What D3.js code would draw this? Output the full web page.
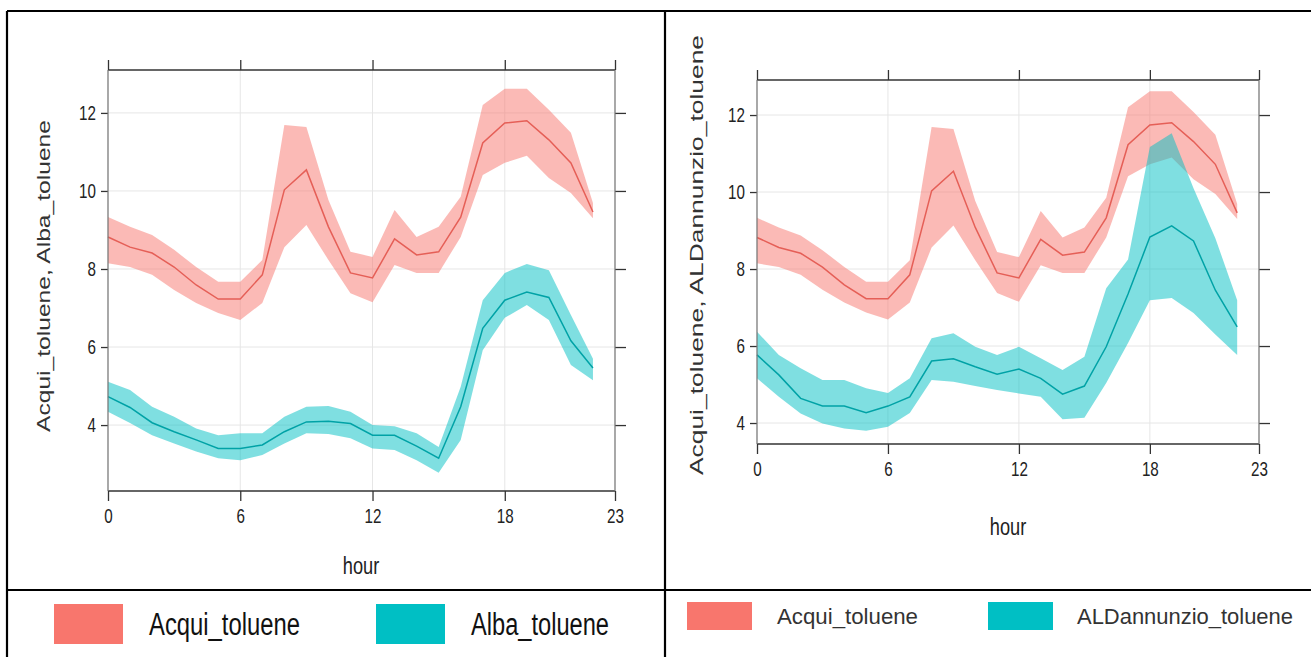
<!DOCTYPE html>
<html>
<head>
<meta charset="utf-8">
<script src="https://cdn.jsdelivr.net/npm/d3@7"></script>
<style>
  body { margin: 0; background: #fff; }
  svg { display: block; font-family: "Liberation Sans", Arial, sans-serif; }
  .tick text { font-size: 20px; fill: #222; }
</style>
</head>
<body>
<script>
// hour of day, 0..22 (axis runs to 23)
var hours = [0, 1, 2, 3, 4, 5, 6, 7, 8, 9, 10, 11, 12, 13, 14, 15, 16, 17, 18, 19, 20, 21, 22];
var xTicks = [0, 6, 12, 18, 23];
var yTicks = [4, 6, 8, 10, 12];

// Acqui_toluene (same series in both panels)
var acquiMean  = [8.82, 8.56, 8.41, 8.05, 7.59, 7.23, 7.23, 7.85, 10.03, 10.54, 9.08, 7.90, 7.77, 8.77, 8.36, 8.44, 9.33, 11.23, 11.74, 11.80, 11.31, 10.72, 9.46];
var acquiUpper = [9.33, 9.08, 8.87, 8.49, 8.05, 7.67, 7.67, 8.23, 11.69, 11.64, 9.77, 8.44, 8.31, 9.51, 8.82, 9.08, 9.85, 12.20, 12.62, 12.62, 12.08, 11.49, 9.69];
var acquiLower = [8.15, 8.05, 7.85, 7.46, 7.13, 6.87, 6.69, 7.13, 8.56, 9.13, 8.23, 7.38, 7.15, 8.10, 7.90, 7.90, 8.82, 10.41, 10.72, 10.90, 10.33, 9.95, 9.30];

// Alba_toluene
var albaMean  = [4.73, 4.45, 4.06, 3.83, 3.62, 3.40, 3.40, 3.49, 3.83, 4.08, 4.10, 4.04, 3.74, 3.74, 3.46, 3.15, 4.47, 6.48, 7.20, 7.41, 7.27, 6.16, 5.46];
var albaUpper = [5.11, 4.90, 4.47, 4.21, 3.91, 3.74, 3.79, 3.79, 4.21, 4.47, 4.49, 4.34, 4.00, 3.97, 3.79, 3.44, 4.98, 7.20, 7.90, 8.13, 7.97, 6.82, 5.70];
var albaLower = [4.34, 4.05, 3.74, 3.53, 3.32, 3.15, 3.10, 3.23, 3.53, 3.79, 3.77, 3.66, 3.40, 3.36, 3.10, 2.78, 3.62, 5.92, 6.75, 7.08, 6.69, 5.54, 5.15];

// ALDannunzio_toluene
var aldMean  = [5.77, 5.25, 4.64, 4.44, 4.44, 4.27, 4.44, 4.68, 5.61, 5.67, 5.46, 5.27, 5.40, 5.16, 4.75, 4.96, 5.98, 7.35, 8.83, 9.12, 8.73, 7.45, 6.50];
var aldUpper = [6.37, 5.77, 5.42, 5.12, 5.12, 4.90, 4.78, 5.16, 6.20, 6.33, 5.98, 5.77, 5.98, 5.68, 5.38, 5.72, 7.50, 8.25, 11.17, 11.53, 10.10, 8.80, 7.19];
var aldLower = [5.16, 4.68, 4.25, 3.99, 3.86, 3.80, 3.90, 4.26, 5.12, 5.07, 4.96, 4.86, 4.77, 4.68, 4.10, 4.14, 5.04, 6.08, 7.19, 7.25, 6.86, 6.30, 5.77];

var red = '#F8766D', teal = '#00BFC4';

var width = 1311, height = 657;
var squeeze = 0.76; // no narrow font installed, so condense by hand

var svg = d3.select('body').append('svg')
  .attr('width', width)
  .attr('height', height);

svg.append('rect').attr('width', width).attr('height', height).attr('fill', '#fff');

// build one panel: box, grid, ticks, bands + lines, titles
var drawPanel = function (p) {
  var x = d3.scaleLinear().domain([0, 23]).range([p.left, p.right]);
  var y = d3.scaleLinear().domain(p.yDomain).range([p.bottom, p.top]);
  var g = svg.append('g');

  // grid
  g.selectAll('.gx').data(xTicks).enter().append('line')
    .attr('x1', function (d) { return x(d); }).attr('x2', function (d) { return x(d); })
    .attr('y1', p.top).attr('y2', p.bottom)
    .attr('stroke', '#e6e6e6');
  g.selectAll('.gy').data(yTicks).enter().append('line')
    .attr('x1', p.left).attr('x2', p.right)
    .attr('y1', function (d) { return y(d); }).attr('y2', function (d) { return y(d); })
    .attr('stroke', '#e6e6e6');

  var area = d3.area()
    .x(function (d, i) { return x(hours[i]); })
    .y0(function (d) { return y(d[0]); })
    .y1(function (d) { return y(d[1]); });
  var line = d3.line()
    .x(function (d, i) { return x(hours[i]); })
    .y(function (d) { return y(d); });

  p.series.forEach(function (s) {
    var band = s.lower.map(function (v, i) { return [v, s.upper[i]]; });
    g.append('path').datum(band)
      .attr('d', area)
      .attr('fill', s.color)
      .attr('fill-opacity', 0.5);
  });
  p.series.forEach(function (s) {
    g.append('path').datum(s.mean)
      .attr('d', line)
      .attr('fill', 'none')
      .attr('stroke', s.lineColor)
      .attr('stroke-width', 1.5);
  });

  // axes, outward ticks on all four sides
  var bottomAx = g.append('g').attr('transform', 'translate(0,' + p.bottom + ')')
    .call(d3.axisBottom(x).tickValues(xTicks).tickSize(10).tickPadding(8));
  bottomAx.selectAll('text').attr('transform', 'scale(' + squeeze + ',1)');
  g.append('g').attr('transform', 'translate(0,' + p.top + ')')
    .call(d3.axisTop(x).tickValues(xTicks).tickSize(10).tickFormat(''));
  var leftAx = g.append('g').attr('transform', 'translate(' + p.left + ',0)')
    .call(d3.axisLeft(y).tickValues(yTicks).tickSize(7).tickPadding(5));
  leftAx.selectAll('text')
    .attr('x', -12 / squeeze)
    .attr('transform', 'scale(' + squeeze + ',1)');
  g.append('g').attr('transform', 'translate(' + p.right + ',0)')
    .call(d3.axisRight(y).tickValues(yTicks).tickSize(11).tickFormat(''));
  g.selectAll('.domain').remove();
  g.selectAll('.tick line').attr('stroke', '#333').attr('stroke-width', 1.3);

  // box
  g.append('line').attr('x1', p.left).attr('x2', p.right).attr('y1', p.top).attr('y2', p.top)
    .attr('stroke', '#333').attr('stroke-width', 1.6);
  g.append('line').attr('x1', p.left).attr('x2', p.right).attr('y1', p.bottom).attr('y2', p.bottom)
    .attr('stroke', '#333').attr('stroke-width', 1.6);
  g.append('line').attr('x1', p.left).attr('x2', p.left).attr('y1', p.top).attr('y2', p.bottom)
    .attr('stroke', '#777').attr('stroke-width', 1.2);
  g.append('line').attr('x1', p.right).attr('x2', p.right).attr('y1', p.top).attr('y2', p.bottom)
    .attr('stroke', '#777').attr('stroke-width', 1.2);

  // titles
  g.append('text')
    .attr('transform', 'translate(' + p.xTitle[0] + ',' + p.xTitle[1] + ') scale(' + squeeze + ',1)')
    .attr('text-anchor', 'middle')
    .attr('font-size', 24).attr('fill', '#222')
    .text('hour');
  g.append('text')
    .attr('transform', 'translate(' + p.yTitle[0] + ',' + p.yTitle[1] + ') rotate(-90)')
    .attr('text-anchor', 'middle')
    .attr('font-size', 18).attr('fill', '#333')
    .attr('textLength', p.yTitle[2]).attr('lengthAdjust', 'spacingAndGlyphs')
    .text(p.yLabel);

  // legend
  p.series.forEach(function (s, i) {
    var L = p.legend[i];
    g.append('rect').attr('x', L.rx).attr('y', p.legendY)
      .attr('width', p.legendW).attr('height', p.legendH)
      .attr('fill', s.color);
    g.append('text')
      .attr('x', L.tx).attr('y', p.legendY + p.legendH / 2)
      .attr('dy', '0.35em')
      .attr('font-size', p.legendFont).attr('fill', p.legendColor)
      .attr('textLength', L.tl).attr('lengthAdjust', 'spacingAndGlyphs')
      .text(s.name);
  });
};

drawPanel({
  left: 108, right: 615, top: 70, bottom: 491,
  yDomain: [2.31, 13.1],
  xTitle: [361, 574], yTitle: [50, 276, 312],
  yLabel: 'Acqui_toluene, Alba_toluene',
  legendY: 604, legendW: 69, legendH: 40, legendFont: 31, legendColor: '#111',
  legend: [{ rx: 54, tx: 149, tl: 151 }, { rx: 376, tx: 471, tl: 138 }],
  series: [
    { name: 'Acqui_toluene', color: red, lineColor: '#e55f57', mean: acquiMean, upper: acquiUpper, lower: acquiLower },
    { name: 'Alba_toluene', color: teal, lineColor: '#00a2a6', mean: albaMean, upper: albaUpper, lower: albaLower }
  ]
});

drawPanel({
  left: 757, right: 1259, top: 80, bottom: 444,
  yDomain: [3.455, 12.91],
  xTitle: [1008, 535], yTitle: [703, 255, 440],
  yLabel: 'Acqui_toluene, ALDannunzio_toluene',
  legendY: 602, legendW: 65, legendH: 28, legendFont: 22, legendColor: '#333',
  legend: [{ rx: 687, tx: 777, tl: 141 }, { rx: 988, tx: 1077, tl: 216 }],
  series: [
    { name: 'Acqui_toluene', color: red, lineColor: '#e55f57', mean: acquiMean, upper: acquiUpper, lower: acquiLower },
    { name: 'ALDannunzio_toluene', color: teal, lineColor: '#00a2a6', mean: aldMean, upper: aldUpper, lower: aldLower }
  ]
});

// panel frame lines
var frame = [
  [7, 11, 1311, 11],
  [7, 11, 7, 657],
  [665, 11, 665, 657],
  [7, 590, 1311, 590]
];
svg.selectAll('.frame').data(frame).enter().append('line')
  .attr('x1', function (d) { return d[0]; }).attr('y1', function (d) { return d[1]; })
  .attr('x2', function (d) { return d[2]; }).attr('y2', function (d) { return d[3]; })
  .attr('stroke', '#000').attr('stroke-width', 2.2);
</script>
</body>
</html>
